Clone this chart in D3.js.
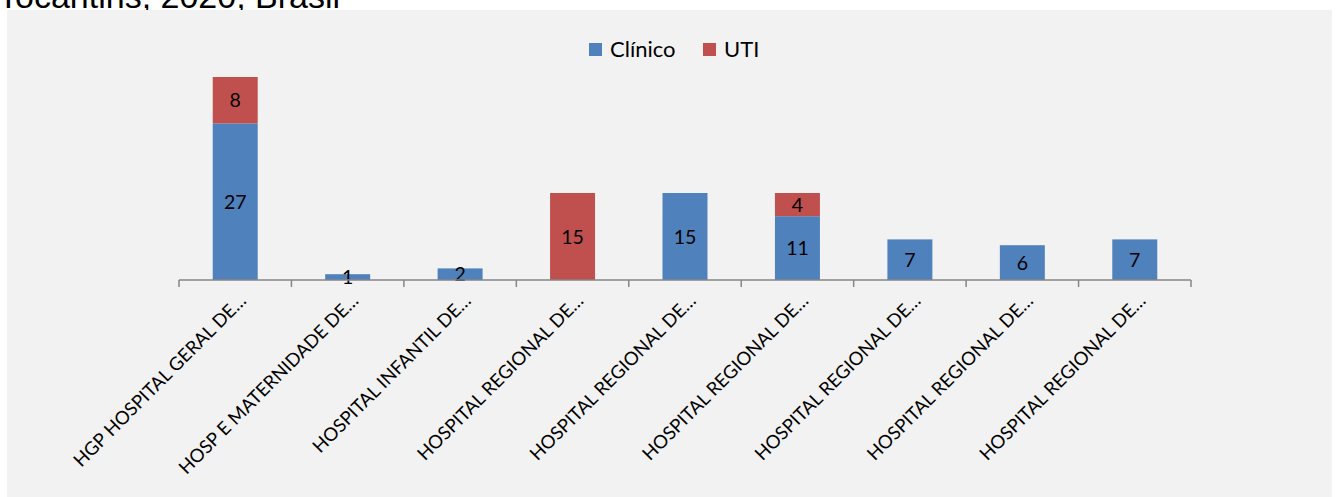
<!DOCTYPE html>
<html lang="pt">
<head>
<meta charset="UTF-8">
<title>Leitos por hospital</title>
<script src="https://d3js.org/d3.v7.min.js"></script>
<style>
    body{
        margin: 0;
        background: #fff;
        overflow: hidden;
    }
    text{
        font-family: Lato, "Open Sans", sans-serif;
    }
</style>
</head>
<body>
<svg id="main" width="1336" height="497"></svg>
<script>
    // dados
    const hospitais = [
        "HGP HOSPITAL GERAL DE…",
        "HOSP E MATERNIDADE DE…",
        "HOSPITAL INFANTIL DE…",
        "HOSPITAL REGIONAL DE…",
        "HOSPITAL REGIONAL DE…",
        "HOSPITAL REGIONAL DE…",
        "HOSPITAL REGIONAL DE…",
        "HOSPITAL REGIONAL DE…",
        "HOSPITAL REGIONAL DE…"
    ]
    const clinico = [27, 1, 2, 0, 15, 11, 7, 6, 7]
    const uti = [8, 0, 0, 15, 0, 4, 0, 0, 0]
    const seriesNames = ["Clínico", "UTI"]
    const colors = ["#4f81bd", "#c0504d"]

    const svg = d3.select("#main")

    // título (cortado no topo da imagem)
    svg.append("text")
        .attr("x", -2).attr("y", 8)
        .style("font-family", "'Liberation Sans', Arial, sans-serif")
        .style("font-size", "34px")
        .attr("fill", "#000")
        .text("Tocantins, 2020, Brasil")

    svg.append("rect")
        .attr("x", 7).attr("y", 10)
        .attr("width", 1325).attr("height", 490)
        .attr("fill", "#f2f2f2")

    const table = hospitais.map((h, i) => ({id: i, name: h, "Clínico": clinico[i], "UTI": uti[i]}))
    const stacked = d3.stack().keys(seriesNames)(table)

    const x = d3.scaleBand()
        .domain(table.map(d => d.id))
        .range([179, 1191])
        .paddingInner(0.6)
        .paddingOuter(0.3)
    const y = d3.scaleLinear().domain([0, 40]).range([280, 48])

    const g = svg.append("g")

    const layers = g.selectAll(".layer")
        .data(stacked)
        .join("g")
        .attr("class", "layer")
        .attr("fill", (d, i) => colors[i])

    layers.selectAll("rect")
        .data(d => d.filter(s => s[1] - s[0] > 0))
        .join("rect")
        .attr("x", d => x(d.data.id))
        .attr("width", x.bandwidth())
        .attr("y", d => y(d[1]))
        .attr("height", d => y(d[0]) - y(d[1]))

    // eixo x
    const axis = g.append("g")
        .attr("transform", "translate(0,280)")
    axis.append("line")
        .attr("x1", 179).attr("x2", 1191)
        .attr("stroke", "#868686").attr("stroke-width", 1.5)
    axis.selectAll(".tick")
        .data(d3.range(hospitais.length + 1))
        .join("line")
        .attr("class", "tick")
        .attr("x1", i => 179 + i * (1012 / hospitais.length))
        .attr("x2", i => 179 + i * (1012 / hospitais.length))
        .attr("y1", 0).attr("y2", 7)
        .attr("stroke", "#868686").attr("stroke-width", 1.5)

    axis.selectAll(".lbl")
        .data(table)
        .join("text")
        .attr("class", "lbl")
        .attr("text-anchor", "end")
        .attr("font-size", "18.5px")
        .attr("fill", "#000")
        .attr("transform", d => "translate(" + (x(d.id) + x.bandwidth() / 2 + 12) + ",22) rotate(-45)")
        .text(d => d.name)

    // rótulos de dados
    layers.selectAll(".val")
        .data(d => d.filter(s => s[1] - s[0] > 0).map(s => Object.assign(s, {v: s[1] - s[0]})))
        .join("text")
        .attr("class", "val")
        .attr("x", d => x(d.data.id) + x.bandwidth() / 2)
        .attr("y", d => (y(d[0]) + y(d[1])) / 2)
        .attr("dy", "0.36em")
        .attr("text-anchor", "middle")
        .attr("fill", "#000")
        .attr("font-size", "19.5px")
        .text(d => d.v)

    // legenda
    const legend = svg.append("g")
    const legX = [589, 703]
    seriesNames.forEach((s, i) => {
        legend.append("rect")
            .attr("x", legX[i]).attr("y", 43)
            .attr("width", 13).attr("height", 13)
            .attr("fill", colors[i])
        legend.append("text")
            .attr("x", legX[i] + 21).attr("y", 49)
            .attr("dy", "0.36em")
            .attr("font-size", "22px")
            .attr("fill", "#000")
            .text(s)
    })
</script>
</body>
</html>
